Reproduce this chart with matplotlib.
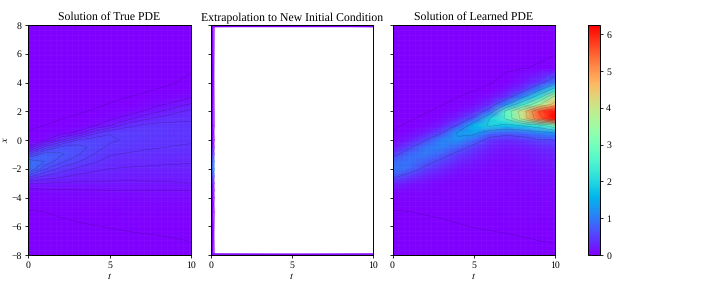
import numpy as np
import matplotlib
matplotlib.use("Agg")
import matplotlib.pyplot as plt
from matplotlib.cm import ScalarMappable
from matplotlib.colors import Normalize

plt.rcParams["font.family"] = ["Liberation Serif", "DejaVu Serif"]
plt.rcParams["mathtext.fontset"] = "stix"
plt.rcParams["text.hinting"] = "none"

t_vals = [0, 1, 2, 3, 4, 5, 6, 7, 8, 9, 10]
x_vals = [-8, -7, -6, -5, -4, -3.5, -3, -2.5, -2, -1.5, -1, -0.5, 0, 0.5, 1, 1.5, 2, 2.5, 3, 3.5, 4, 5, 6, 7, 8]

# one profile u(x) for each t
true_u = [
    [0, 0, .001, .007, .03, .07, .2, .55, .95, .92, .5, .1, .04, .012, .005, .002, 0, 0, 0, 0, 0, 0, 0, 0, 0],
    [0, 0, .003, .01, .04, .08, .2, .4, .62, .8, .78, .42, .07, .025, .01, .004, .001, 0, 0, 0, 0, 0, 0, 0, 0],
    [0, 0, .005, .013, .05, .09, .19, .33, .47, .63, .72, .63, .3, .05, .02, .009, .003, .001, 0, 0, 0, 0, 0, 0, 0],
    [0, .001, .007, .017, .06, .095, .18, .28, .38, .52, .62, .65, .5, .12, .035, .015, .006, .002, 0, 0, 0, 0, 0, 0, 0],
    [0, .002, .009, .02, .065, .097, .18, .26, .33, .42, .5, .57, .56, .36, .08, .027, .012, .005, .002, 0, 0, 0, 0, 0, 0],
    [0, .003, .011, .023, .07, .1, .18, .25, .3, .36, .41, .47, .53, .49, .2, .07, .025, .011, .005, .002, 0, 0, 0, 0, 0],
    [0, .004, .013, .026, .07, .1, .18, .24, .29, .34, .39, .44, .48, .5, .36, .14, .05, .018, .009, .004, .002, 0, 0, 0, 0],
    [0, .005, .015, .03, .075, .1, .185, .235, .285, .33, .375, .42, .45, .48, .42, .26, .1, .035, .013, .007, .003, 0, 0, 0, 0],
    [.001, .006, .017, .033, .08, .1, .19, .23, .28, .32, .365, .405, .43, .455, .445, .33, .185, .075, .025, .011, .005, 0, 0, 0, 0],
    [.002, .008, .019, .036, .085, .1, .195, .23, .275, .315, .355, .395, .42, .435, .43, .37, .27, .125, .05, .017, .009, .001, 0, 0, 0],
    [.003, .011, .02, .04, .09, .1, .2, .23, .27, .31, .35, .39, .41, .42, .415, .39, .33, .21, .085, .04, .02, .005, .001, 0, 0],
]

learned_u = [
    [0, 0, 0, .007, .03, .1, .3, .75, 1.0, .85, .45, .15, .04, .013, .004, .001, 0, 0, 0, 0, 0, 0, 0, 0, 0],
    [0, 0, .001, .0095, .03, .06, .18, .45, .85, .95, .85, .5, .18, .05, .016, .005, .001, 0, 0, 0, 0, 0, 0, 0, 0],
    [0, 0, .003, .012, .03, .05, .1, .28, .5, .75, 1.0, .95, .55, .2, .06, .018, .006, .002, 0, 0, 0, 0, 0, 0, 0],
    [0, 0, .005, .014, .03, .04, .06, .16, .3, .5, .78, 1.05, 1.05, .55, .2, .06, .02, .007, .002, 0, 0, 0, 0, 0, 0],
    [0, .001, .008, .017, .03, .035, .045, .08, .17, .3, .48, .8, 1.2, 1.3, .65, .25, .08, .025, .008, .003, .001, 0, 0, 0, 0],
    [0, .002, .011, .02, .03, .035, .04, .055, .1, .18, .3, .48, .85, 1.4, 1.6, .7, .28, .09, .03, .007, .003, .001, 0, 0, 0],
    [0, .003, .013, .022, .03, .035, .04, .05, .07, .1, .16, .25, .42, .9, 1.95, 1.9, .85, .3, .1, .02, .008, .002, 0, 0, 0],
    [0, .005, .015, .025, .035, .04, .045, .05, .06, .08, .12, .18, .32, .75, 1.7, 2.6, 2.7, 1.1, .38, .14, .02, .006, .001, 0, 0],
    [0, .007, .018, .03, .04, .05, .055, .07, .08, .11, .15, .2, .4, .85, 1.9, 4.0, 4.1, 2.3, 1.1, .4, .15, .008, .002, 0, 0],
    [.001, .01, .022, .035, .05, .06, .075, .09, .12, .16, .22, .3, .55, 1.05, 2.2, 5.4, 5.6, 3.6, 2.2, 1.1, .42, .014, .003, 0, 0],
    [.001, .012, .025, .04, .06, .07, .09, .12, .16, .21, .28, .38, .6, 1.25, 3.0, 6.25, 6.2, 4.6, 4.0, 2.2, 1.0, .03, .008, .001, 0],
]

# the extrapolation only lives for a moment, the rest of the run is nan
extrap_x = [-8, -5, -4, -3.5, -3, -2.5, -2, -1.5, -1, -0.5, 0, 1, 8]
extrap_u = [0, 0, .02, .08, .25, .6, .95, .85, .45, .15, .04, 0, 0]

true_levels = [.01, .1, .2, .3, .4, .5, .6, .7, .8, .9]
learned_levels = [.01, .6, 1.25, 1.87, 2.5, 3.1, 3.75, 4.4, 5.0, 5.6]

titles = ["Solution of True PDE", "Extrapolation to New Initial Condition", "Solution of Learned PDE"]
x_ticks = [-8, -6, -4, -2, 0, 2, 4, 6, 8]
t_ticks = [0, 5, 10]
cbar_ticks = [0, 1, 2, 3, 4, 5, 6]

W, H = 706, 283
norm = Normalize(0, 6.25)
cmap = "rainbow"


def px_axes(fig, left, right, top, bottom):
    return fig.add_axes([left / W, 1 - bottom / H, (right - left) / W, (bottom - top) / H])


def draw_field(ax, u, levels):
    u = np.array(u).T
    ax.pcolormesh(t_vals, x_vals, u, cmap=cmap, norm=norm, shading="gouraud", rasterized=True)
    ax.contour(t_vals, x_vals, u, levels=levels, colors="k", linewidths=0.3, alpha=0.3)
    # faint lattice left by the original mesh
    ax.vlines(np.arange(0, 10, 0.34), -8, 8, color="w", lw=0.4, alpha=0.05)
    ax.hlines(np.arange(-8, 8, 0.34), 0, 10, color="w", lw=0.4, alpha=0.05)


fig = plt.figure(figsize=(W / 100, H / 100), dpi=100)
ax1 = px_axes(fig, 28, 191, 25, 255)
ax2 = px_axes(fig, 211, 373, 25, 255)
ax3 = px_axes(fig, 392.5, 555, 25, 255)

draw_field(ax1, true_u, true_levels)
draw_field(ax3, learned_u, learned_levels)

strip = np.array([extrap_u, extrap_u]).T
ax2.pcolormesh([0, 0.1], extrap_x, strip, cmap=cmap, norm=norm, shading="gouraud")
ax2.pcolormesh([0.1, 0.2], extrap_x, strip, cmap=cmap, norm=norm, shading="gouraud", alpha=0.5)
edge = np.zeros((2, 2))
ax2.pcolormesh([0, 10], [7.88, 8], edge, cmap=cmap, norm=norm, shading="gouraud")
ax2.pcolormesh([0, 10], [-8, -7.92], edge, cmap=cmap, norm=norm, shading="gouraud", alpha=0.8)

for ax, title in zip([ax1, ax2, ax3], titles):
    ax.set_xlim(0, 10)
    ax.set_ylim(-8, 8)
    ax.set_xticks(t_ticks)
    ax.set_yticks(x_ticks)
    ax.tick_params(labelsize=7, length=2.5, width=0.6, pad=2)
    ax.set_xlabel("$t$", fontsize=7.5, labelpad=1)
    ax.set_title(title, fontsize=8.45, pad=3.5)
    for s in ax.spines.values():
        s.set_linewidth(0.7)
ax2.set_yticklabels([])
ax3.set_yticklabels([])
ax1.set_ylabel("$x$", fontsize=7.5, labelpad=1)

cax = px_axes(fig, 588, 600, 25, 255)
cb = fig.colorbar(ScalarMappable(norm=norm, cmap=cmap), cax=cax)
cb.set_ticks(cbar_ticks)
cb.ax.tick_params(labelsize=7, length=2.5, width=0.6, pad=2)
cb.outline.set_linewidth(0.7)

fig.savefig("out.png", dpi=100)
